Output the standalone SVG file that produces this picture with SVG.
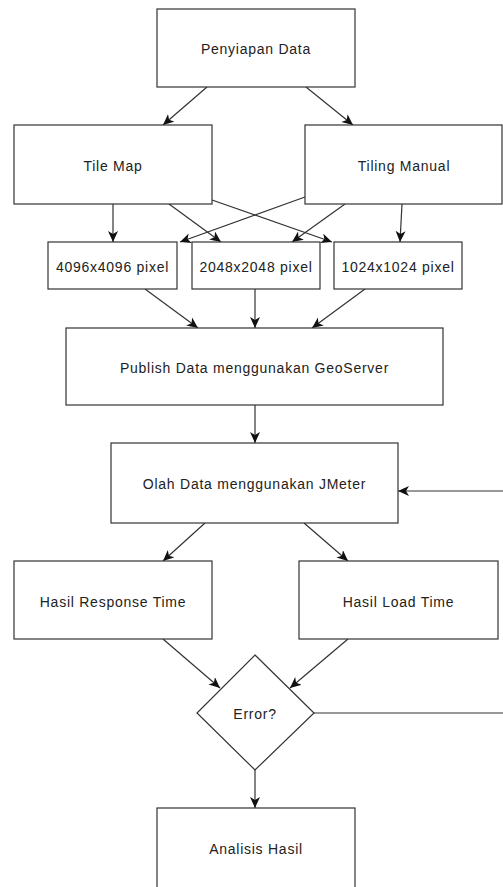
<svg xmlns="http://www.w3.org/2000/svg" width="503" height="887" viewBox="0 0 503 887">
<style>
.box{fill:#fff;stroke:#333;stroke-width:1.2}
.lbl{font-family:"Liberation Sans",Arial,sans-serif;font-size:14px;fill:#222;text-anchor:middle;dominant-baseline:central;letter-spacing:0.75px}
.c{fill:none;stroke:#333;stroke-width:1.2}
.a{marker-end:url(#arr)}
</style>
<defs>
<marker id="arr" markerUnits="userSpaceOnUse" markerWidth="14" markerHeight="12" refX="11" refY="5" orient="auto" viewBox="0 0 14 12">
<path d="M0,0 L11,5 L0,10 L3,5 Z" fill="#111"/>
</marker>
</defs>
<rect width="503" height="887" fill="#fff"/>
<g id="connectors">
<line class="c a" x1="207" y1="87" x2="163" y2="125"/>
<line class="c a" x1="306" y1="87" x2="353" y2="125"/>
<line class="c a" x1="113" y1="204" x2="113" y2="242"/>
<line class="c a" x1="169" y1="204" x2="221" y2="242"/>
<line class="c a" x1="212" y1="200" x2="332" y2="242"/>
<line class="c a" x1="305" y1="197" x2="180" y2="242"/>
<line class="c a" x1="345" y1="204" x2="292" y2="242"/>
<line class="c a" x1="402" y1="204" x2="400" y2="242"/>
<line class="c a" x1="145" y1="289" x2="198" y2="328"/>
<line class="c a" x1="255" y1="289" x2="255" y2="328"/>
<line class="c a" x1="365" y1="289" x2="312" y2="328"/>
<line class="c a" x1="255" y1="405" x2="255" y2="443"/>
<line class="c a" x1="503" y1="491" x2="398" y2="491"/>
<line class="c a" x1="205" y1="523" x2="163" y2="561"/>
<line class="c a" x1="304" y1="523" x2="348" y2="561"/>
<line class="c a" x1="163" y1="639" x2="220" y2="688"/>
<line class="c a" x1="348" y1="639" x2="290" y2="688"/>
<line class="c" x1="314" y1="713" x2="503" y2="713"/>
<line class="c a" x1="255" y1="770" x2="255" y2="808"/>
</g>
<g id="penyiapan"><rect class="box" x="157" y="9" width="198" height="78"/><text class="lbl" x="256" y="49">Penyiapan Data</text></g>
<g id="tilemap"><rect class="box" x="14" y="125" width="198" height="79"/><text class="lbl" x="113" y="166">Tile Map</text></g>
<g id="tilingmanual"><rect class="box" x="305" y="125" width="197" height="79"/><text class="lbl" x="404" y="166">Tiling Manual</text></g>
<g id="p4096"><rect class="box" x="48" y="242" width="129" height="47"/><text class="lbl" x="112.5" y="267">4096x4096 pixel</text></g>
<g id="p2048"><rect class="box" x="192" y="242" width="128" height="47"/><text class="lbl" x="256" y="267">2048x2048 pixel</text></g>
<g id="p1024"><rect class="box" x="334" y="242" width="128" height="47"/><text class="lbl" x="398" y="267">1024x1024 pixel</text></g>
<g id="publish"><rect class="box" x="66" y="328" width="377" height="77"/><text class="lbl" x="254.5" y="368">Publish Data menggunakan GeoServer</text></g>
<g id="olah"><rect class="box" x="111" y="443" width="287" height="80"/><text class="lbl" x="254.5" y="484">Olah Data menggunakan JMeter</text></g>
<g id="response"><rect class="box" x="14" y="561" width="198" height="78"/><text class="lbl" x="113" y="602">Hasil Response Time</text></g>
<g id="load"><rect class="box" x="299" y="561" width="199" height="78"/><text class="lbl" x="398.5" y="602">Hasil Load Time</text></g>
<g id="error"><polygon class="box" points="255,655 314,713 255,770 197,713"/><text class="lbl" x="255" y="714">Error?</text></g>
<g id="analisis"><rect class="box" x="157" y="808" width="198" height="82"/><text class="lbl" x="256" y="849">Analisis Hasil</text></g>
</svg>
